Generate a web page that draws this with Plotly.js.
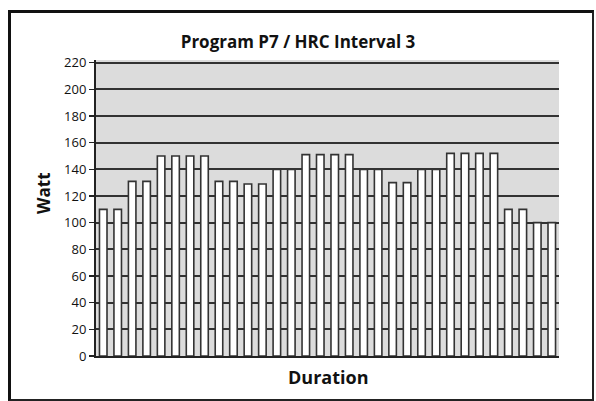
<!DOCTYPE html>
<html>
<head>
<meta charset="utf-8">
<script src="https://cdn.plot.ly/plotly-3.0.1.min.js"></script>
<style>
  html, body { margin: 0; padding: 0; background: #fff; }
  #wrap { position: relative; width: 596px; height: 401px; }
  #chart { width: 596px; height: 401px; }
  /* black frame around the chart */
  #frame {
    position: absolute; left: 8px; top: 10px; width: 581px; height: 386px;
    border-left: 3px solid #111; border-top: 3px solid #111;
    border-right: 2px solid #222; border-bottom: 2px solid #222;
    pointer-events: none;
  }
</style>
</head>
<body>
<div id="wrap">
  <div id="chart"></div>
  <div id="frame"></div>
</div>
<script>
// interval steps along the duration axis
const steps = [
  "1", "2", "3", "4", "5", "6", "7", "8",
  "9", "10", "11", "12", "13", "14", "15", "16",
  "17", "18", "19", "20", "21", "22", "23", "24",
  "25", "26", "27", "28", "29", "30", "31", "32"
];

// watt per step
const watts = [
  110, 110, 131, 131, 150, 150, 150, 150,
  131, 131, 129, 129, 140, 140, 151, 151,
  151, 151, 140, 140, 130, 130, 140, 140,
  152, 152, 152, 152, 110, 110, 100, 100
];

const yTicks = [0, 20, 40, 60, 80, 100, 120, 140, 160, 180, 200, 220];

const font = "Open Sans, DejaVu Sans, sans-serif";

const traces = [];

traces.push({
  type: "bar",
  x: steps,
  y: watts,
  marker: {
    color: "#ffffff",
    line: { color: "#333333", width: 1.6 }
  },
  hoverinfo: "x+y"
});

Plotly.newPlot(
  "chart",
  traces,
  {
    width: 596,
    height: 401,
    margin: { l: 96, r: 37, t: 60, b: 45 },
    paper_bgcolor: "#ffffff",
    plot_bgcolor: "#dcdcdc",
    bargap: 0.48,
    showlegend: false,
    font: { family: font, color: "#111", size: 13 },

    title: {
      text: "Program P7 / HRC Interval 3",
      font: { family: font, size: 17, weight: "bold", color: "#111" },
      x: 0.5,
      xref: "container",
      xanchor: "center",
      y: 1 - 42 / 401,
      yref: "container",
      yanchor: "middle"
    },

    xaxis: {
      type: "category",
      range: [-0.5, 31.5],
      showticklabels: false,
      ticks: "",
      showgrid: false,
      showline: true,
      linecolor: "#222",
      linewidth: 2,
      fixedrange: true
    },

    yaxis: {
      range: [0, 222],
      tickvals: yTicks,
      ticks: "outside",
      ticklen: 5,
      tickwidth: 1.5,
      tickcolor: "#222",
      showline: true,
      linecolor: "#222",
      linewidth: 2,
      gridcolor: "#333333",
      gridwidth: 2,
      zeroline: false,
      fixedrange: true,
      tickfont: { family: font, size: 13, color: "#111" }
    },

    // axis titles placed as annotations to sit where the original has them
    annotations: [
      {
        text: "Watt",
        textangle: -90,
        xref: "paper", x: -0.115, xanchor: "center",
        yref: "paper", y: 0.55, yanchor: "middle",
        showarrow: false,
        font: { family: font, size: 17, weight: "bold", color: "#111" }
      },
      {
        text: "Duration",
        xref: "paper", x: 0.5, xanchor: "center",
        yref: "paper", y: -0.072, yanchor: "middle",
        showarrow: false,
        font: { family: font, size: 18, weight: "bold", color: "#111" }
      }
    ]
  },
  { staticPlot: true }
);
</script>
</body>
</html>
